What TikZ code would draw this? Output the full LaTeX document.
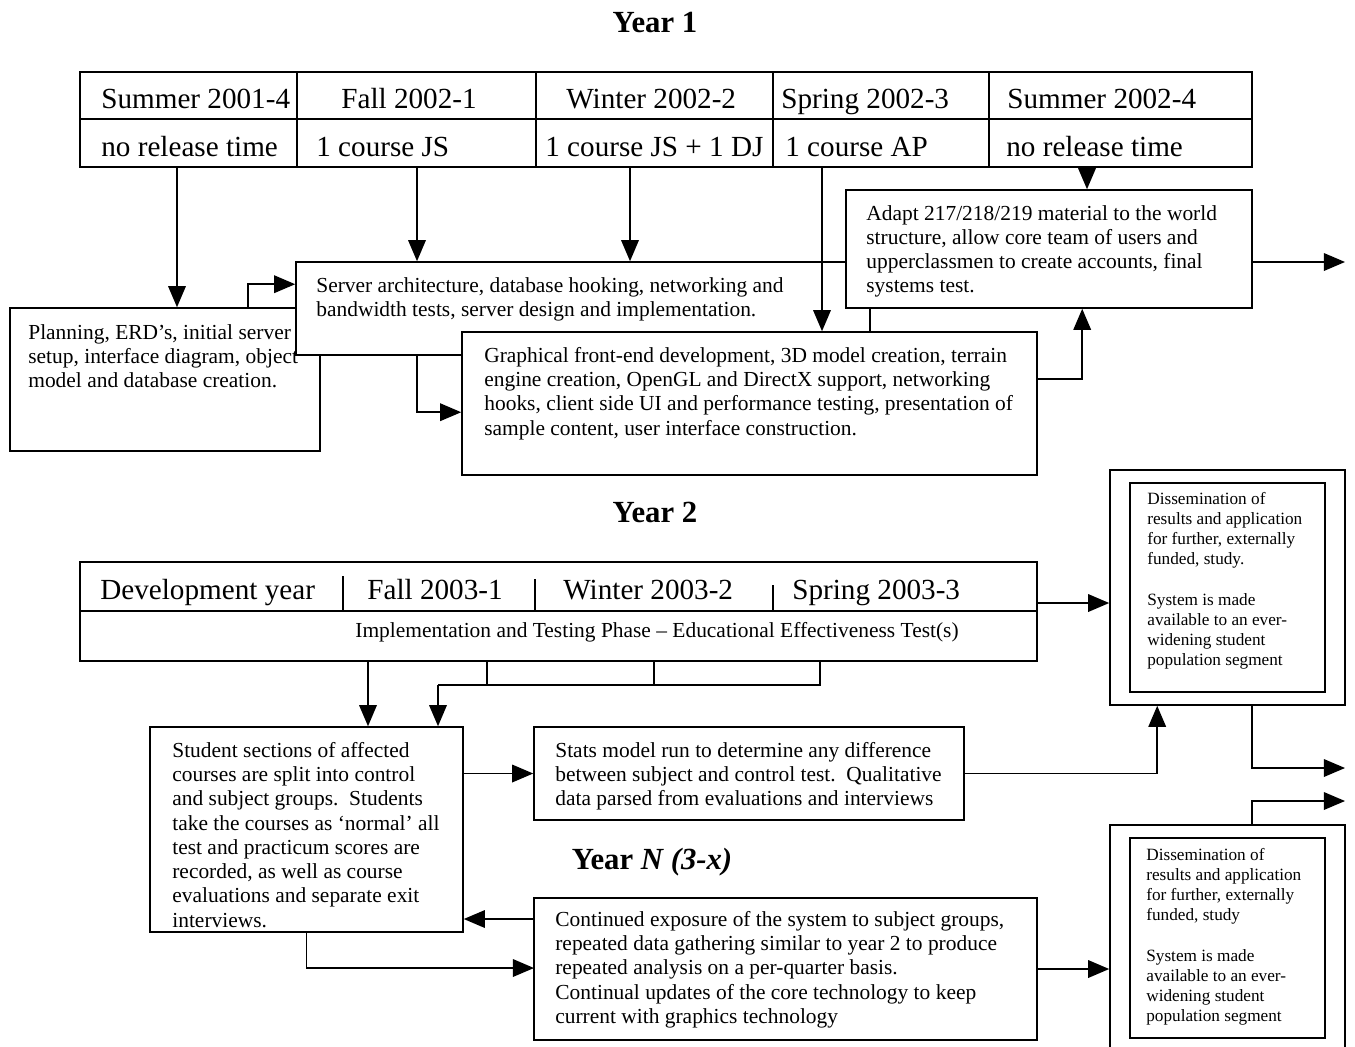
\documentclass[tikz,border=0pt]{standalone}
\usepackage{fontspec}
\setmainfont{Liberation Serif}
\usetikzlibrary{positioning, calc, arrows.meta, fit}

\begin{document}
\begin{tikzpicture}[
    x=0.02cm, y=-0.02cm,
    box/.style={draw, fill=white, line width=0.9pt, inner sep=0pt},
    rule/.style={line width=0.9pt},
    cell/.style={anchor=base west, inner sep=0pt, font=\fontsize{16.6}{19}\selectfont},
    boxtext/.style={anchor=north west, align=left, inner sep=0pt, font=\fontsize{12.2}{13.8}\selectfont},
    smalltext/.style={anchor=north west, align=left, inner sep=0pt, font=\fontsize{9.8}{11.45}\selectfont},
    title/.style={font=\fontsize{17.5}{20}\selectfont\bfseries},
    arrow/.style={-{Triangle[length=12pt, width=10pt]}, line width=0.9pt}
]
    \useasboundingbox (0,0) rectangle (1355,1046);

    % Year 1
    \node[title] (year1) at (655,22) {Year 1};
    \node[box, fit={(80,72) (1252,167)}] (tab1) {};
    \draw[rule] (80,119) -- (1252,119);
    \foreach \x in {297,536,773,989}
        \draw[rule] (\x,72) -- (\x,167);
    \node[cell] (sum1) at (101,108) {Summer 2001-4};
    \node[cell] (fall1) at (341,108) {Fall 2002-1};
    \node[cell] (win1) at (566,108) {Winter 2002-2};
    \node[cell] (spr1) at (781,108) {Spring 2002-3};
    \node[cell] (sum2) at (1007,108) {Summer 2002-4};
    \node[cell] (rel1) at (101,156) {no release time};
    \node[cell] (rel2) at (316,156) {1 course JS};
    \node[cell] (rel3) at (545,156) {1 course JS + 1 DJ};
    \node[cell] (rel4) at (785,156) {1 course AP};
    \node[cell] (rel5) at (1006,156) {no release time};

    \node[box, fit={(10,308) (320,451)}] (plan) {};
    \node[boxtext] (plantext) at (28,324) {Planning, ERD's, initial server\\setup, interface diagram, object\\model and database creation.};
    \node[box, fit={(296,262) (870,355)}] (server) {};
    \node[boxtext] (servertext) at (316,277) {Server architecture, database hooking, networking and\\bandwidth tests, server design and implementation.};
    \node[box, fit={(846,190) (1252,308)}] (adapt) {};
    \node[boxtext] (adapttext) at (866,205) {Adapt 217/218/219 material to the world\\structure, allow core team of users and\\upperclassmen to create accounts, final\\systems test.};
    \node[box, fit={(462,332) (1037,475)}] (graph) {};
    \node[boxtext] (graphtext) at (484,347) {Graphical front-end development, 3D model creation, terrain\\engine creation, OpenGL and DirectX support, networking\\hooks, client side UI and performance testing, presentation of\\sample content, user interface construction.};

    \coordinate (t1) at (177,167);
    \coordinate (t2) at (417,167);
    \coordinate (t3) at (630,167);
    \coordinate (t4) at (822,167);
    \coordinate (t5) at (1087,167);
    \coordinate (p1) at (248,308);
    \coordinate (out1) at (1345,262);
    \draw[arrow] (t1) -- (t1 |- plan.north);
    \draw[arrow] (t2) -- (t2 |- server.north);
    \draw[arrow] (t3) -- (t3 |- server.north);
    \draw[arrow] (t4) -- (t4 |- graph.north);
    \draw[arrow] (t5) -- (t5 |- adapt.north);
    \draw[arrow] (p1) |- ($(server.north west)+(0,23)$);
    \draw[arrow] (server.south -| t2) |- ($(graph.north west)+(0,81)$);
    \draw[arrow] ($(graph.north east)+(0,48)$) -| ($(adapt.south west)+(237,0)$);
    \draw[arrow] (adapt.east |- out1) -- (out1);

    % Year 2
    \node[title] (year2) at (655,512) {Year 2};
    \node[box, fit={(80,562) (1037,661)}] (tab2) {};
    \draw[rule] (80,611) -- (1037,611);
    \draw[rule] (343,576) -- (343,610);
    \draw[rule] (535,579) -- (535,611);
    \draw[rule] (773,585) -- (773,611);
    \node[cell] (dev) at (100,599) {Development year};
    \node[cell] (fall3) at (367,599) {Fall 2003-1};
    \node[cell] (win3) at (563,599) {Winter 2003-2};
    \node[cell] (spr3) at (792,599) {Spring 2003-3};
    \node[font=\fontsize{12.2}{14}\selectfont, inner sep=0pt] (phase) at (657,632) {Implementation and Testing Phase -- Educational Effectiveness Test(s)};

    \node[box, fit={(150,727) (463,932)}] (student) {};
    \node[boxtext] (studenttext) at (172,742) {Student sections of affected\\courses are split into control\\and subject groups.\ \ Students\\take the courses as `normal' all\\test and practicum scores are\\recorded, as well as course\\evaluations and separate exit\\interviews.};
    \node[box, fit={(534,727) (964,820)}] (stats) {};
    \node[boxtext] (statstext) at (555,742) {Stats model run to determine any difference\\between subject and control test.\ \ Qualitative\\data parsed from evaluations and interviews};

    \node[box, fit={(1110,470) (1345,705)}] (diss1) {};
    \node[box, fit={(1130,483) (1325,692)}] (diss1in) {};
    \node[smalltext] (diss1text) at (1147,492) {Dissemination of\\results and application\\for further, externally\\funded, study.\\[11.45pt]System is made\\available to an ever-\\widening student\\population segment};

    \coordinate (u1) at (368,661);
    \coordinate (u2) at (487,661);
    \coordinate (u3) at (654,661);
    \coordinate (u4) at (820,661);
    \coordinate (j) at (438,685);
    \coordinate (v1) at (1037,603);
    \coordinate (out2) at (1345,768);
    \coordinate (out3) at (1345,801);
    \draw[arrow] (u1) -- (u1 |- student.north);
    \draw[rule] (u4) |- (j);
    \draw[rule] (u2) -- (u2 |- j);
    \draw[rule] (u3) -- (u3 |- j);
    \draw[arrow] (j) -- (j |- student.north);
    \draw[arrow] (v1) -- (v1 -| diss1.west);
    \draw[arrow] (stats.west -| student.east) -- (stats.west);
    \draw[arrow] (stats.east) -| ($(diss1.south west)+(48,0)$);
    \draw[arrow] ($(diss1.south west)+(143,0)$) |- (out2);

    % Year N
    \node[title] (yearn) at (652,862) {Year \textit{N (3-x)}};
    \node[box, fit={(534,898) (1037,1040)}] (cont) {};
    \node[boxtext] (conttext) at (555,911) {Continued exposure of the system to subject groups,\\repeated data gathering similar to year 2 to produce\\repeated analysis on a per-quarter basis.\\Continual updates of the core technology to keep\\current with graphics technology};

    \node[box, fit={(1110,825) (1345,1060)}] (diss2) {};
    \node[box, fit={(1130,838) (1325,1038)}] (diss2in) {};
    \node[smalltext] (diss2text) at (1146,848) {Dissemination of\\results and application\\for further, externally\\funded, study\\[11.45pt]System is made\\available to an ever-\\widening student\\population segment};

    \coordinate (c1) at (534,919);
    \coordinate (c2) at (534,968);
    \draw[arrow] ($(diss2.north west)+(143,0)$) |- (out3);
    \draw[arrow] (c1) -- (c1 -| student.east);
    \draw[arrow] (student.south) |- (c2);
    \draw[arrow] (cont.east) -- (cont.east -| diss2.west);
\end{tikzpicture}
\end{document}
